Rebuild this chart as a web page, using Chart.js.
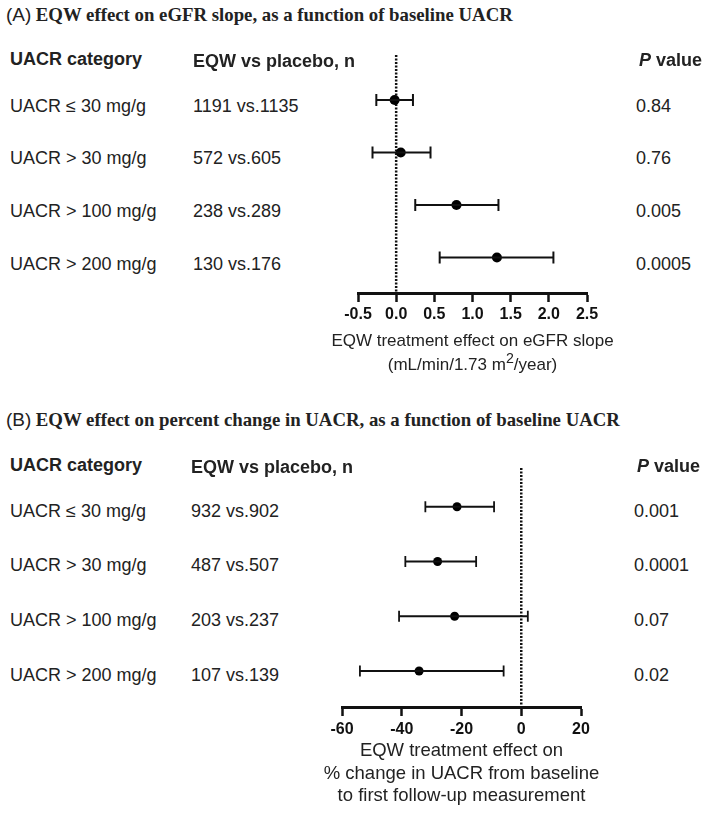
<!DOCTYPE html>
<html>
<head>
<meta charset="utf-8">
<script src="https://cdn.jsdelivr.net/npm/chart.js@4.4.1/dist/chart.umd.min.js"></script>
<style>
	body { margin: 0; width: 709px; height: 815px; background: #fff; position: relative; overflow: hidden;
		font-family: "Liberation Sans", Arial, sans-serif; color: #222; }
	.t { position: absolute; white-space: nowrap; transform: translateY(-50%); font-size: 18px; line-height: 1; }
	.h { font-weight: bold; }
	.ax { position: absolute; white-space: nowrap; transform: translate(-50%, -50%); line-height: 1; text-align: center; }
	.ttl { position: absolute; left: 6px; white-space: nowrap; transform: translateY(-50%); line-height: 1; }
	.ttl .lab { font-size: 19px; }
	.ttl b { font-family: "Liberation Serif", "Times New Roman", serif; font-size: 18.8px; }
	.box { position: absolute; }
</style>
</head>
<body>
<div class="ttl" style="top:15px"><span class="lab">(A)</span> <b>EQW effect on eGFR slope, as a function of baseline UACR</b></div>
<div class="ttl" style="top:420px"><span class="lab">(B)</span> <b>EQW effect on percent change in UACR, as a function of baseline UACR</b></div>

<div class="box" style="left:318px;top:45px;width:309px;height:332px"><canvas id="chartA" width="309" height="332"></canvas></div>
<div class="box" style="left:302px;top:458px;width:319px;height:352px"><canvas id="chartB" width="319" height="352"></canvas></div>

<script>
// row labels (same for both panels)
const categories = ['UACR \u2264 30 mg/g', 'UACR > 30 mg/g', 'UACR > 100 mg/g', 'UACR > 200 mg/g'];

// (A) eGFR slope
const countsA = ['1191 vs.1135', '572 vs.605', '238 vs.289', '130 vs.176'];
const pValuesA = ['0.84', '0.76', '0.005', '0.0005'];
const effectA = [-0.02, 0.06, 0.79, 1.32];
const lowerA = [-0.26, -0.31, 0.25, 0.57];
const upperA = [0.22, 0.45, 1.34, 2.06];
const ticksA = [-0.5, 0, 0.5, 1, 1.5, 2, 2.5];
const axisTitleA = ['EQW treatment effect on eGFR slope', '(mL/min/1.73 m<sup>2</sup>/year)'];

// (B) percent change in UACR
const countsB = ['932 vs.902', '487 vs.507', '203 vs.237', '107 vs.139'];
const pValuesB = ['0.001', '0.0001', '0.07', '0.02'];
const effectB = [-21.5, -28.0, -22.3, -34.2];
const lowerB = [-32.1, -38.8, -40.9, -54];
const upperB = [-9.1, -15.1, 2.2, -5.9];
const ticksB = [-60, -40, -20, 0, 20];
const axisTitleB = ['EQW treatment effect on', '% change in UACR from baseline', 'to first follow-up measurement'];

const INK = '#111';

const zeroLine = {
	id: 'zeroLine',
	beforeDatasetsDraw(chart) {
		const { ctx, chartArea, scales: { x } } = chart;
		const px = x.getPixelForValue(0);
		ctx.save();
		ctx.strokeStyle = INK;
		ctx.lineWidth = 2.5;
		ctx.setLineDash([2, 1.5]);
		ctx.beginPath();
		ctx.moveTo(px, chartArea.top);
		ctx.lineTo(px, chartArea.bottom);
		ctx.stroke();
		ctx.restore();
	}
};

function makeDatasets(eff, lo, hi, dot, cap, lw) {
	const sets = eff.map((v, i) => ({
		type: 'line',
		data: [{ x: lo[i], y: i }, { x: hi[i], y: i }],
		borderColor: INK,
		borderWidth: lw,
		pointStyle: 'line',
		rotation: 90,
		pointRadius: cap,
		pointBorderWidth: lw,
		pointBorderColor: INK,
		showLine: true,
		fill: false,
		clip: false
	}));
	sets.push({
		type: 'scatter',
		data: eff.map((v, i) => ({ x: v, y: i })),
		pointRadius: dot,
		pointBackgroundColor: '#000',
		pointBorderWidth: 0,
		clip: false
	});
	return sets;
}

function makeChart(id, o) {
	return new Chart(document.getElementById(id), {
		type: 'scatter',
		data: { datasets: makeDatasets(o.eff, o.lo, o.hi, o.dot, o.cap, o.lw) },
		plugins: [zeroLine],
		options: {
			responsive: false,
			animation: false,
			events: [],
			layout: { padding: { left: 40, right: 40, top: 10, bottom: 0 } },
			plugins: { legend: { display: false }, tooltip: { enabled: false } },
			scales: {
				x: {
					type: 'linear',
					min: o.ticks[0],
					max: o.ticks[o.ticks.length - 1],
					afterBuildTicks: s => { s.ticks = o.ticks.map(v => ({ value: v })); },
					afterFit: s => { s.height = o.axisH; },
					grid: { drawOnChartArea: false, drawTicks: true, tickLength: 9, tickWidth: 2.5, tickColor: INK },
					border: { color: INK, width: 3 },
					ticks: {
						color: INK, padding: o.tickPad, autoSkip: false, maxRotation: 0,
						font: { family: 'Liberation Sans', weight: 'bold', size: 16 },
						callback: o.fmt
					}
				},
				y: { type: 'linear', display: false, reverse: true, min: o.yMin, max: o.yMax }
			}
		}
	});
}

const chartA = makeChart('chartA', {
	eff: effectA, lo: lowerA, hi: upperA, dot: 5, cap: 6, lw: 2,
	ticks: ticksA, fmt: v => v.toFixed(1), axisH: 84, tickPad: 3,
	yMin: -0.857, yMax: 3.676
});

const chartB = makeChart('chartB', {
	eff: effectB, lo: lowerB, hi: upperB, dot: 4.5, cap: 5.5, lw: 1.8,
	ticks: ticksB, fmt: v => String(v), axisH: 103, tickPad: 4,
	yMin: -0.708, yMax: 3.658
});

function addText(txt, x, y, cls, size) {
	const d = document.createElement('div');
	d.className = cls;
	d.style.left = x + 'px';
	d.style.top = y + 'px';
	if (size) d.style.fontSize = size + 'px';
	d.innerHTML = txt;
	document.body.appendChild(d);
}

// table text, rows placed on the chart's own y scale
function table(chart, top, hdrY, counts, pvals, shift, xs) {
	addText('UACR category', xs[0], hdrY, 't h');
	addText('EQW vs placebo, n', xs[1], hdrY + 2, 't h');
	addText('<i>P</i> value', xs[2] + 3, hdrY + 1, 't h');
	categories.forEach((c, i) => {
		const y = top + chart.scales.y.getPixelForValue(i) + shift;
		addText(c, xs[0], y, 't');
		addText(counts[i], xs[1], y, 't');
		addText(pvals[i], xs[2], y, 't');
	});
}

// axis title under the x axis, centred on the scale
function axisTitle(chart, left, top, lines, first, step, size) {
	const x = chart.scales.x;
	const cx = left + (x.left + x.right) / 2;
	lines.forEach((s, i) => addText(s, cx, top + x.top + first + i * step, 'ax', size));
}

table(chartA, 45, 59, countsA, pValuesA, 6, [10, 193, 636]);
table(chartB, 458, 465, countsB, pValuesB, 4, [10, 191, 634]);
axisTitle(chartA, 318, 45, axisTitleA, 47, 22, 17);
axisTitle(chartB, 302, 458, axisTitleB, 43, 22.5, 18.5);
</script>
</body>
</html>
